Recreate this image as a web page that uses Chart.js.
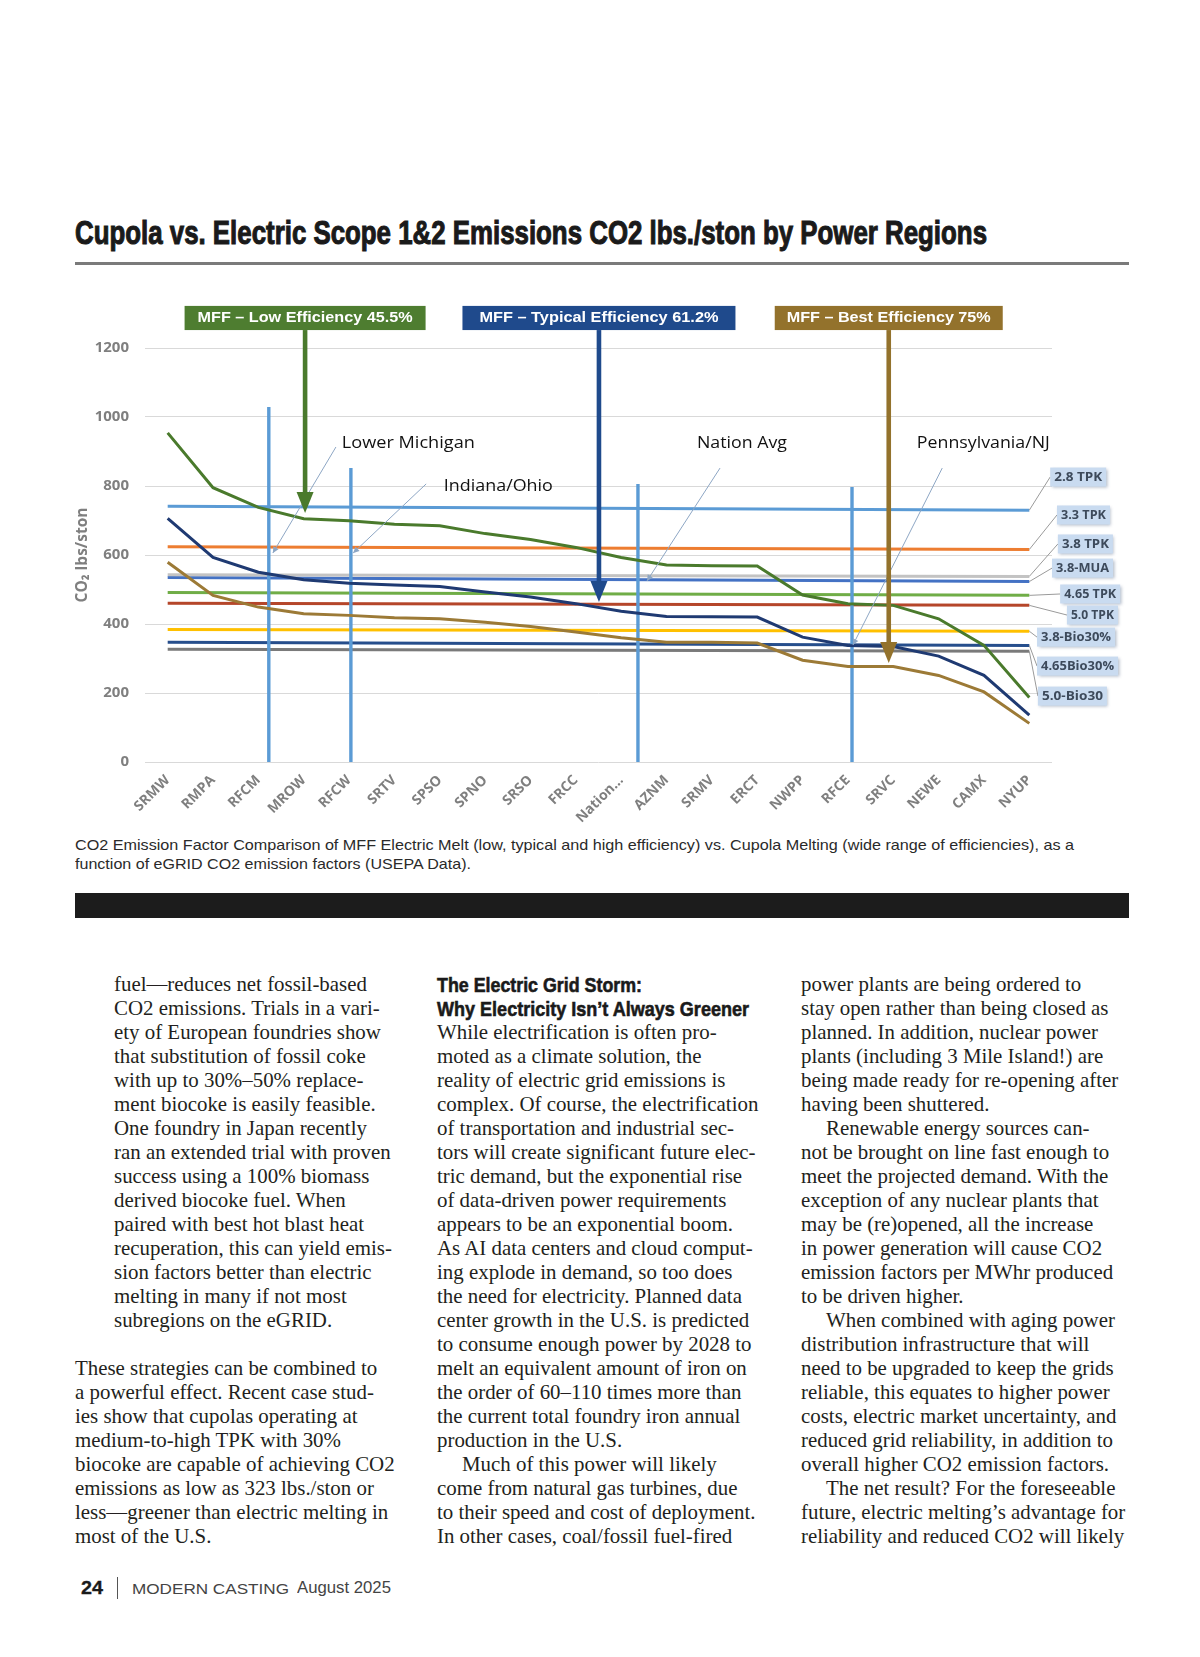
<!DOCTYPE html>
<html>
<head>
<meta charset="utf-8">
<script src="https://cdn.jsdelivr.net/npm/chart.js@4.4.1/dist/chart.umd.min.js"></script>
<style>
  html,body{margin:0;padding:0;background:#fff;}
  body{width:1200px;height:1657px;position:relative;overflow:hidden;}
  .t{position:absolute;white-space:nowrap;transform-origin:0 0;}
  #chartWrap{position:absolute;left:60px;top:290px;width:1080px;height:540px;}
</style>
</head>
<body>
<div id="chartWrap"><canvas id="c" width="1080" height="540"></canvas></div>
<script>
// ---------------- DATA ----------------
const categories = ['SRMW','RMPA','RFCM','MROW','RFCW','SRTV','SPSO','SPNO','SRSO','FRCC','Nation…','AZNM','SRMV','ERCT','NWPP','RFCE','SRVC','NEWE','CAMX','NYUP'];
const yTicks = [0,200,400,600,800,1000,1200];

// MFF electric melt curves (lbs CO2 / ston)
const mffLow     = [954,795,738,705,699,689,685,662,645,622,593,571,569,568,484,459,454,415,338,187];
const mffTypical = [706,593,550,528,518,513,509,493,478,459,437,422,421,420,362,338,335,307,251,136];
const mffBest    = [579,483,449,430,425,418,415,405,393,377,360,347,347,345,295,277,277,251,203,112];

// Cupola constant lines: value at SRMW and at NYUP
const cupolaLabels = ['2.8 TPK','3.3 TPK','3.8 TPK','3.8-MUA','4.65 TPK','5.0 TPK','3.8-Bio30%','4.65Bio30%','5.0-Bio30'];
const cupolaStart  = [741,624,543,535,491,460,384,347,327];
const cupolaEnd    = [730,616,538,523,483,454,379,338,321];

// region marker lines: category position and top value
const markerPos = [2.23, 4.04, 10.37, 15.09];
const markerTop = [1029, 852, 806, 797];

// MFF efficiency arrows: category position and tip value
const mffNames   = ['MFF – Low Efficiency 45.5%','MFF – Typical Efficiency 61.2%','MFF – Best Efficiency 75%'];
const mffArrowAt = [3.03, 9.51, 15.90];
const mffArrowTip= [722, 464, 287];

// region callouts
const calloutText = ['Lower Michigan','Indiana/Ohio','Nation Avg','Pennsylvania/NJ'];

// ---------------- STYLE / LAYOUT ----------------
const curveColors  = ['#4A7A2C','#1F3A72','#9C7A36'];
const cupolaColors = ['#5B9BD5','#ED7D31','#C3C3C3','#4472C4','#70AD47','#B5462A','#FFC000','#264E8C','#7A7A7A'];
const boxColors    = ['#4E7D30','#1F4A8C','#93722C'];
const arrowColors  = ['#4A7A2C','#1F4A8C','#93722C'];
const boxWidths    = [241, 273, 228];
const boxTextW     = [215, 239, 204];
const boxTopV = 1322, boxBotV = 1252;
const callout = [
  {tx:3.84, ty:925, tw:133, a:[3.71,913], b:[2.32,606]},
  {tx:6.09, ty:800, tw:109, a:[5.70,806], b:[4.09,606]},
  {tx:11.67,ty:925, tw:90,  a:[12.18,852], b:[10.57,525]},
  {tx:16.52,ty:925, tw:133, a:[17.08,852], b:[15.11,339]}
];
const rlab = [
  {x:19.46, v:826, w:56},{x:19.61, v:716, w:53},{x:19.63, v:632, w:55},
  {x:19.50, v:562, w:61},{x:19.68, v:487, w:60},{x:19.83, v:426, w:51},
  {x:19.17, v:362, w:78},{x:19.17, v:278, w:81},{x:19.19, v:191, w:69}
];

function fitText(ctx, text, x, y, w, font, color, align){
  ctx.save();
  ctx.font = font; ctx.fillStyle = color; ctx.textBaseline = 'middle'; ctx.textAlign = align || 'left';
  const m = ctx.measureText(text).width;
  ctx.translate(x, y); ctx.scale(w / m, 1);
  ctx.fillText(text, 0, 0);
  ctx.restore();
}

const annot = {
  id: 'annot',
  afterDatasetDraw(chart, args){
    if (args.index !== 3) return;
    const ctx = chart.ctx, xs = chart.scales.x, ys = chart.scales.y;
    ctx.save();
    ctx.strokeStyle = '#5B9BD5'; ctx.lineWidth = 3.4;
    markerPos.forEach((p, i) => {
      const x = xs.getPixelForValue(p);
      ctx.beginPath(); ctx.moveTo(x, ys.getPixelForValue(0)); ctx.lineTo(x, ys.getPixelForValue(markerTop[i])); ctx.stroke();
    });
    ctx.restore();
  },
  afterDraw(chart){
    const ctx = chart.ctx, xs = chart.scales.x, ys = chart.scales.y;
    const X = v => xs.getPixelForValue(v), Y = v => ys.getPixelForValue(v);
    // right-hand labels
    ctx.save();
    rlab.forEach((r, i) => {
      const x0 = X(19), y0 = Y(cupolaEnd[i]);
      const bx = X(r.x), by = Y(r.v);
      ctx.strokeStyle = '#9a9a9a'; ctx.lineWidth = 1;
      ctx.beginPath(); ctx.moveTo(x0, y0); ctx.lineTo(bx, by); ctx.stroke();
    });
    rlab.forEach((r, i) => {
      const bx = X(r.x), by = Y(r.v), h = 19;
      ctx.save();
      ctx.shadowColor = 'rgba(90,110,140,0.45)'; ctx.shadowBlur = 3; ctx.shadowOffsetX = 1.5; ctx.shadowOffsetY = 1.5;
      ctx.fillStyle = '#C9DBF0'; ctx.fillRect(bx, by - h/2, r.w, h);
      ctx.restore();
      fitText(ctx, cupolaLabels[i], bx + 4, by + 0.5, r.w - 8, 'bold 13px "Open Sans"', '#3D4A5B', 'left');
    });
    ctx.restore();
    // callouts
    callout.forEach((c, i) => {
      ctx.save();
      ctx.strokeStyle = '#8DA6C4'; ctx.fillStyle = '#8DA6C4'; ctx.lineWidth = 1;
      const ax = X(c.a[0]), ay = Y(c.a[1]), bx = X(c.b[0]), by = Y(c.b[1]);
      ctx.beginPath(); ctx.moveTo(ax, ay); ctx.lineTo(bx, by); ctx.stroke();
      const ang = Math.atan2(by - ay, bx - ax);
      ctx.beginPath(); ctx.moveTo(bx, by);
      ctx.lineTo(bx - 6*Math.cos(ang) + 3*Math.sin(ang), by - 6*Math.sin(ang) - 3*Math.cos(ang));
      ctx.lineTo(bx - 6*Math.cos(ang) - 3*Math.sin(ang), by - 6*Math.sin(ang) + 3*Math.cos(ang));
      ctx.closePath(); ctx.fill();
      ctx.restore();
      fitText(ctx, calloutText[i], X(c.tx), Y(c.ty), c.tw, '17px "Open Sans"', '#111', 'left');
    });
    // MFF arrows and boxes
    mffNames.forEach((name, i) => {
      const x = X(mffArrowAt[i]), tip = Y(mffArrowTip[i]);
      const top = Y(boxTopV), bot = Y(boxBotV);
      ctx.save();
      ctx.fillStyle = arrowColors[i];
      const sw = 4.6, hw = 8.5, hl = 21;
      ctx.fillRect(x - sw/2, bot, sw, tip - hl - bot + 1);
      ctx.beginPath(); ctx.moveTo(x - hw, tip - hl); ctx.lineTo(x + hw, tip - hl); ctx.lineTo(x, tip); ctx.closePath(); ctx.fill();
      ctx.fillStyle = boxColors[i];
      ctx.fillRect(x - boxWidths[i]/2, top, boxWidths[i], bot - top);
      ctx.restore();
      fitText(ctx, name, x, (top + bot)/2 + 0.5, boxTextW[i], 'bold 14px "Liberation Sans"', '#fff', 'center');
    });
  }
};

const datasets = [];
[mffLow, mffTypical, mffBest].forEach((d, i) => datasets.push({
  label: mffNames[i], data: d, borderColor: curveColors[i], borderWidth: 3, pointRadius: 0, tension: 0, fill: false
}));
cupolaLabels.forEach((l, i) => datasets.push({
  label: l, data: [{x: categories[0], y: cupolaStart[i]}, {x: categories[categories.length-1], y: cupolaEnd[i]}],
  borderColor: cupolaColors[i], borderWidth: 3, pointRadius: 0, tension: 0, fill: false
}));

new Chart(document.getElementById('c'), {
  type: 'line',
  data: {labels: categories, datasets},
  options: {
    responsive: false, animation: false, devicePixelRatio: 1,
    layout: {padding: {left: 0, top: 58, right: 88, bottom: 0}},
    plugins: {legend: {display: false}, tooltip: {enabled: false}},
    scales: {
      x: {
        type: 'category', offset: true,
        grid: {display: false, drawTicks: false}, border: {display: false},
        ticks: {color: '#7F7F7F', font: {family: '"Open Sans"', weight: 'bold', size: 14}, minRotation: 45, maxRotation: 45, autoSkip: false, padding: 10},
        afterFit(s){ s.height = 68; }
      },
      y: {
        min: 0, max: 1200,
        afterBuildTicks(s){ s.ticks = yTicks.map(v => ({value: v})); },
        grid: {color: '#D9D9D9', lineWidth: 1, drawTicks: false}, border: {display: false},
        ticks: {color: '#7F7F7F', font: {family: '"Open Sans"', weight: 'bold', size: 15}, padding: 16, callback: v => String(v)},
        title: {display: true, text: 'CO₂ lbs/ston', color: '#7F7F7F', font: {family: '"Open Sans"', weight: 'bold', size: 15.5}, padding: {top: 13, bottom: 0}},
        afterFit(s){ s.width = 85; }
      }
    }
  },
  plugins: [annot]
});

// ---------------- PAGE TEXT ----------------
function place(text, left, baseline, size, family, weight, color, fitW, k, stroke){
  const el = document.createElement('div');
  el.className = 't';
  el.textContent = text;
  el.style.left = left + 'px';
  el.style.fontSize = size + 'px';
  el.style.lineHeight = size + 'px';
  el.style.fontFamily = family;
  el.style.fontWeight = weight;
  el.style.color = color;
  if (stroke) el.style.webkitTextStroke = stroke + 'px ' + color;
  el.style.top = (baseline - k * size) + 'px';
  document.body.appendChild(el);
  if (fitW){
    const w = el.getBoundingClientRect().width;
    el.style.transform = 'scaleX(' + (fitW / w) + ')';
  }
  return el;
}
const NARROW = '"Liberation Sans Narrow", "Liberation Sans", sans-serif';
const SERIF = '"Liberation Serif", serif';
const kN = 0.8465, kS = 0.8375;

place('Cupola vs. Electric Scope 1&2 Emissions CO2 lbs./ston by Power Regions', 75, 243.5, 34, NARROW, 'bold', '#1a1a1a', 912, kN, 1.1);
const rule = document.createElement('div');
rule.style.cssText = 'position:absolute;left:75px;top:262px;width:1054px;height:2.5px;background:#7a7a7a;';
document.body.appendChild(rule);

place('CO2 Emission Factor Comparison of MFF Electric Melt (low, typical and high efficiency) vs. Cupola Melting (wide range of efficiencies), as a', 75, 850, 15, NARROW, 'normal', '#2a2a2a', 999, kN);
place('function of eGRID CO2 emission factors (USEPA Data).', 75, 869, 15, NARROW, 'normal', '#2a2a2a', 396, kN);
const bar = document.createElement('div');
bar.style.cssText = 'position:absolute;left:75px;top:893px;width:1054px;height:25px;background:#1c1c1c;';
document.body.appendChild(bar);

const col1 = [
  [39,'fuel—reduces net fossil-based'],[39,'CO2 emissions. Trials in a vari-'],[39,'ety of European foundries show'],
  [39,'that substitution of fossil coke'],[39,'with up to 30%–50% replace-'],[39,'ment biocoke is easily feasible.'],
  [39,'One foundry in Japan recently'],[39,'ran an extended trial with proven'],[39,'success using a 100% biomass'],
  [39,'derived biocoke fuel. When'],[39,'paired with best hot blast heat'],[39,'recuperation, this can yield emis-'],
  [39,'sion factors better than electric'],[39,'melting in many if not most'],[39,'subregions on the eGRID.'],
  null,
  [0,'These strategies can be combined to'],[0,'a powerful effect. Recent case stud-'],[0,'ies show that cupolas operating at'],
  [0,'medium-to-high TPK with 30%'],[0,'biocoke are capable of achieving CO2'],[0,'emissions as low as 323 lbs./ston or'],
  [0,'less—greener than electric melting in'],[0,'most of the U.S.']
];
const col2 = [
  ['h','The Electric Grid Storm:',205],['h','Why Electricity Isn’t Always Greener',312],
  [0,'While electrification is often pro-'],[0,'moted as a climate solution, the'],[0,'reality of electric grid emissions is'],
  [0,'complex. Of course, the electrification'],[0,'of transportation and industrial sec-'],[0,'tors will create significant future elec-'],
  [0,'tric demand, but the exponential rise'],[0,'of data-driven power requirements'],[0,'appears to be an exponential boom.'],
  [0,'As AI data centers and cloud comput-'],[0,'ing explode in demand, so too does'],[0,'the need for electricity. Planned data'],
  [0,'center growth in the U.S. is predicted'],[0,'to consume enough power by 2028 to'],[0,'melt an equivalent amount of iron on'],
  [0,'the order of 60–110 times more than'],[0,'the current total foundry iron annual'],[0,'production in the U.S.'],
  [25,'Much of this power will likely'],[0,'come from natural gas turbines, due'],[0,'to their speed and cost of deployment.'],
  [0,'In other cases, coal/fossil fuel-fired']
];
const col3 = [
  [0,'power plants are being ordered to'],[0,'stay open rather than being closed as'],[0,'planned. In addition, nuclear power'],
  [0,'plants (including 3 Mile Island!) are'],[0,'being made ready for re-opening after'],[0,'having been shuttered.'],
  [25,'Renewable energy sources can-'],[0,'not be brought on line fast enough to'],[0,'meet the projected demand. With the'],
  [0,'exception of any nuclear plants that'],[0,'may be (re)opened, all the increase'],[0,'in power generation will cause CO2'],
  [0,'emission factors per MWhr produced'],[0,'to be driven higher.'],
  [25,'When combined with aging power'],[0,'distribution infrastructure that will'],[0,'need to be upgraded to keep the grids'],
  [0,'reliable, this equates to higher power'],[0,'costs, electric market uncertainty, and'],[0,'reduced grid reliability, in addition to'],
  [0,'overall higher CO2 emission factors.'],
  [25,'The net result? For the foreseeable'],[0,'future, electric melting’s advantage for'],[0,'reliability and reduced CO2 will likely']
];
function column(lines, left){
  lines.forEach((ln, n) => {
    if (!ln) return;
    const base = 992 + 24 * n;
    if (ln[0] === 'h') place(ln[1], left, base, 21, NARROW, 'bold', '#1a1a1a', ln[2], kN, 0.6);
    else place(ln[1], left + ln[0], base, 20.9, SERIF, 'normal', '#231f20', null, kS);
  });
}
column(col1, 75);
column(col2, 437);
column(col3, 801);

place('24', 81, 1594, 18, NARROW, 'bold', '#1a1a1a', 22, kN, 0.3);
const vb = document.createElement('div');
vb.style.cssText = 'position:absolute;left:117px;top:1577px;width:1.2px;height:22px;background:#555;';
document.body.appendChild(vb);
place('MODERN CASTING', 132, 1594, 15, '"Liberation Sans", sans-serif', 'normal', '#444', 157, kN);
place('August 2025', 297, 1594, 16, NARROW, 'normal', '#444', 94, kN);
</script>
</body>
</html>
